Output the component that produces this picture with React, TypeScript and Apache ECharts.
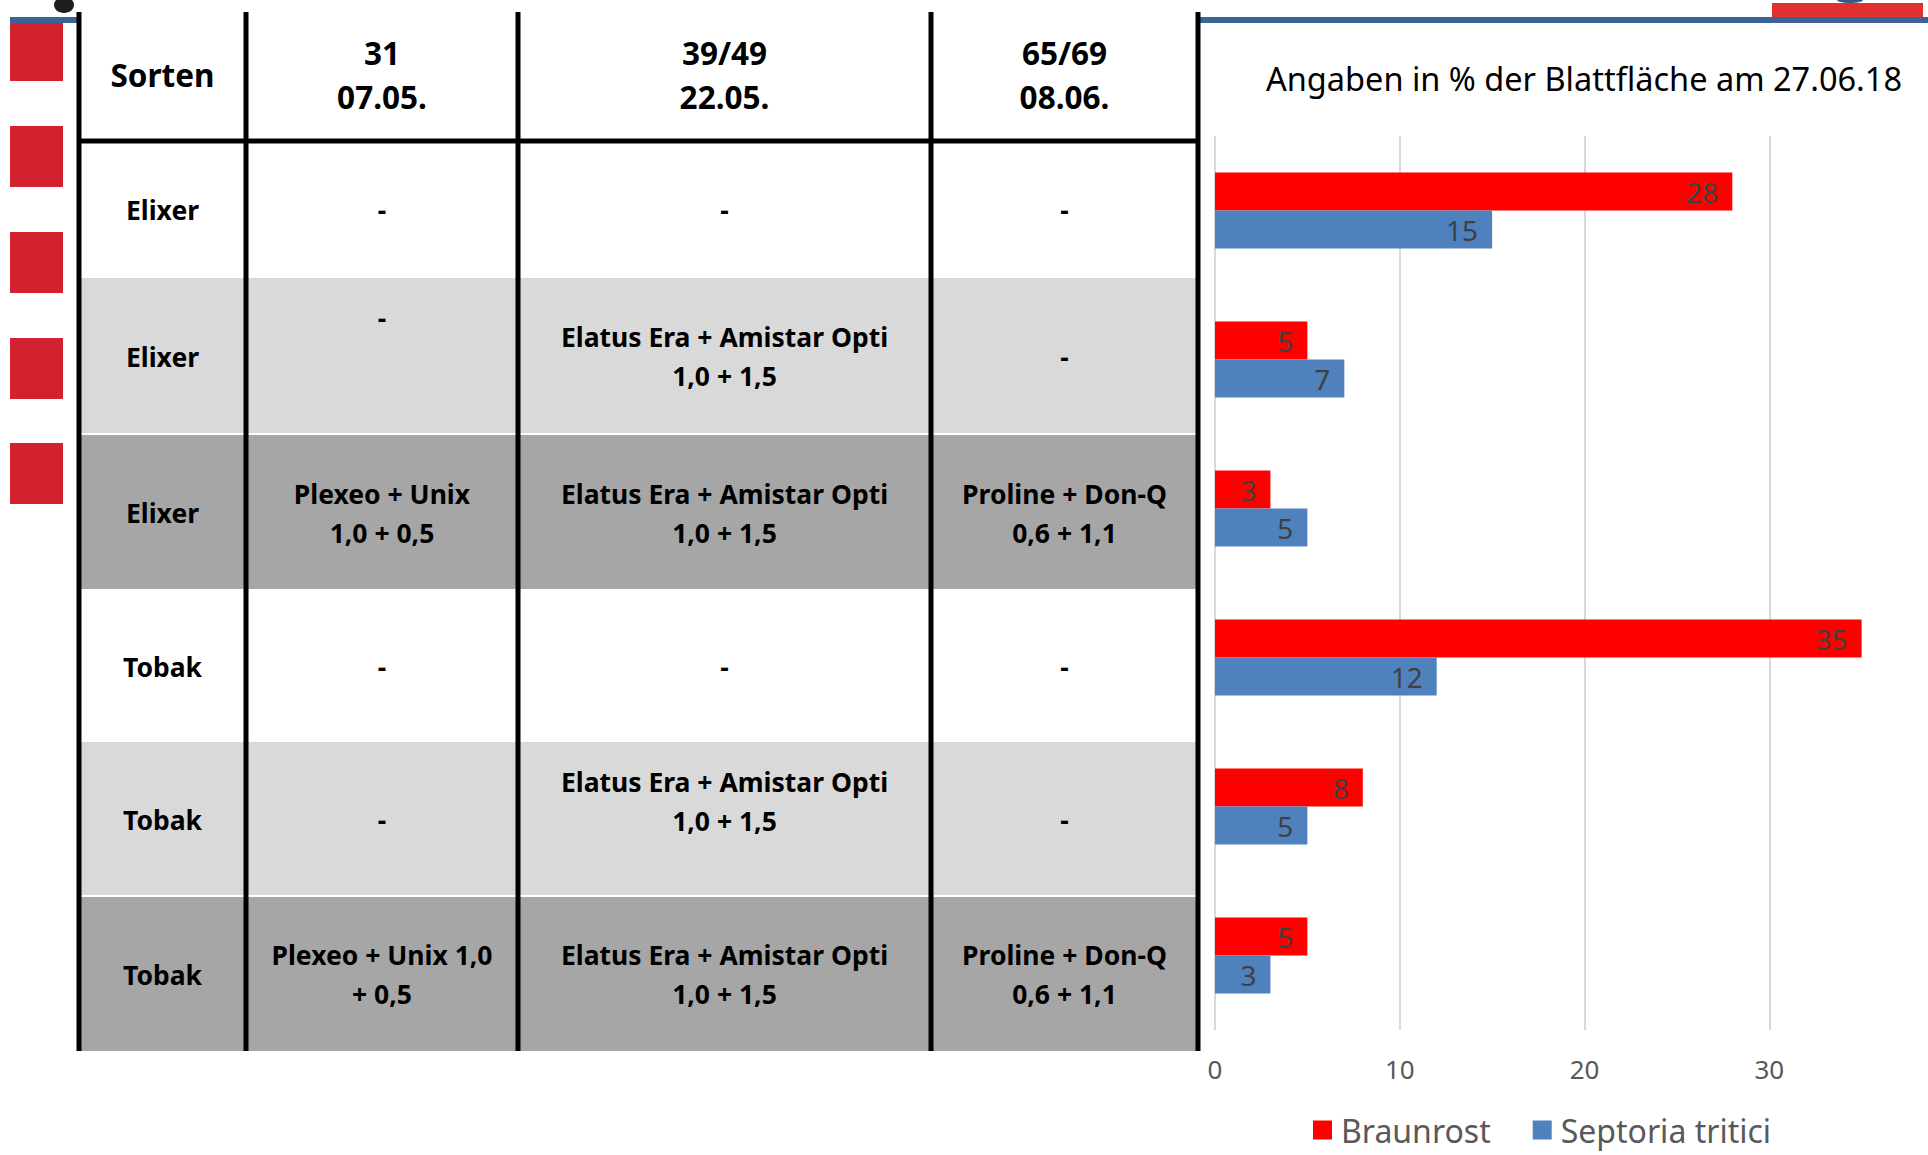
import React, { useEffect, useRef } from "react";
import * as echarts from "echarts";

// ---------- data ----------
const chartTitle = "Angaben in % der Blattfläche am 27.06.18";
const seriesNames = ["Braunrost", "Septoria tritici"];
const categories = [
  "Elixer · Kontrolle",
  "Elixer · 39/49",
  "Elixer · 31 + 39/49 + 65/69",
  "Tobak · Kontrolle",
  "Tobak · 39/49",
  "Tobak · 31 + 39/49 + 65/69",
];
const braunrost = [28, 5, 3, 35, 8, 5];
const septoria = [15, 7, 5, 12, 5, 3];
const axisMin = 0;
const axisMax = 40;
const axisInterval = 10;

const tableHeaders = ["Sorten", "31\n07.05.", "39/49\n22.05.", "65/69\n08.06."];
const sorten = ["Elixer", "Elixer", "Elixer", "Tobak", "Tobak", "Tobak"];
const behandlung31 = ["-", "-", "Plexeo + Unix\n1,0 + 0,5", "-", "-", "Plexeo + Unix 1,0\n+ 0,5"];
const behandlung3949 = [
  "-",
  "Elatus Era + Amistar Opti\n1,0 + 1,5",
  "Elatus Era + Amistar Opti\n1,0 + 1,5",
  "-",
  "Elatus Era + Amistar Opti\n1,0 + 1,5",
  "Elatus Era + Amistar Opti\n1,0 + 1,5",
];
const behandlung6569 = ["-", "-", "Proline + Don-Q\n0,6 + 1,1", "-", "-", "Proline + Don-Q\n0,6 + 1,1"];

// ---------- layout (positions / styles) ----------
const FONT = "'Noto Sans', 'Open Sans', sans-serif";
const colX = [79, 246, 518, 931, 1198];
const rowY = [12, 141, 277, 434, 590, 741, 896, 1051];
const rowFill = ["#ffffff", "#d9d9d9", "#a6a6a6", "#ffffff", "#d9d9d9", "#a6a6a6"];
const topAlignedCells = ["1-1", "4-2"];

function buildGraphics() {
  const els: any[] = [];
  // decorations
  [20, 126, 232, 338, 443].forEach((y) => {
    els.push({ type: "rect", shape: { x: 10, y, width: 53, height: 61 }, style: { fill: "#d3222f" }, z: 1 });
  });
  els.push({ type: "rect", shape: { x: 10, y: 17, width: 67, height: 6 }, style: { fill: "#3a6496" }, z: 2 });
  els.push({ type: "ellipse", shape: { cx: 64, cy: 5, rx: 10, ry: 8 }, style: { fill: "#1e1e1e" }, z: 2 });
  els.push({ type: "rect", shape: { x: 1772, y: 3, width: 151, height: 14 }, style: { fill: "#e03030" }, z: 2 });
  els.push({ type: "ellipse", shape: { cx: 1850, cy: 0, rx: 13, ry: 3 }, style: { fill: "#3a5a8c" }, z: 2 });
  els.push({ type: "rect", shape: { x: 1199, y: 17, width: 760, height: 6 }, style: { fill: "#3a6496" }, z: 2 });

  // row backgrounds
  for (let r = 0; r < 6; r++) {
    els.push({
      type: "rect",
      shape: { x: colX[0], y: rowY[r + 1], width: colX[4] - colX[0], height: rowY[r + 2] - rowY[r + 1] },
      style: { fill: rowFill[r] },
      z: 1,
    });
  }
  // white separators
  for (let r = 2; r < 7; r++) {
    els.push({
      type: "rect",
      shape: { x: colX[0], y: rowY[r] - 1, width: colX[4] - colX[0], height: 2 },
      style: { fill: "#ffffff" },
      z: 2,
    });
  }
  // vertical lines
  colX.forEach((x) => {
    els.push({
      type: "line",
      shape: { x1: x, y1: rowY[0], x2: x, y2: rowY[7] },
      style: { stroke: "#000", lineWidth: 5 },
      z: 3,
    });
  });
  // header line
  els.push({
    type: "line",
    shape: { x1: colX[0] - 2, y1: rowY[1], x2: colX[4] + 2, y2: rowY[1] },
    style: { stroke: "#000", lineWidth: 5 },
    z: 3,
  });

  // header texts
  tableHeaders.forEach((t, c) => {
    els.push({
      type: "text",
      style: {
        text: t,
        x: (colX[c] + colX[c + 1]) / 2,
        y: (rowY[0] + rowY[1]) / 2 - 2,
        textAlign: "center",
        textVerticalAlign: "middle",
        fontSize: 31.5,
        fontWeight: "bold",
        fontFamily: FONT,
        lineHeight: 44,
        fill: "#000",
      },
      z: 4,
    });
  });
  // body texts
  const cols = [sorten, behandlung31, behandlung3949, behandlung6569];
  for (let r = 0; r < 6; r++) {
    const top = rowY[r + 1];
    const bottom = rowY[r + 2];
    cols.forEach((col, c) => {
      const isTop = topAlignedCells.indexOf(`${r}-${c}`) >= 0;
      els.push({
        type: "text",
        style: {
          text: col[r],
          x: (colX[c] + colX[c + 1]) / 2,
          y: isTop ? top + 21 : (top + bottom) / 2 + 1,
          textAlign: "center",
          textVerticalAlign: isTop ? "top" : "middle",
          fontSize: 26.5,
          fontWeight: "bold",
          fontFamily: FONT,
          lineHeight: 39,
          fill: "#000",
        },
        z: 4,
      });
    });
  }
  return els;
}

export default function App() {
  const ref = useRef<HTMLDivElement>(null);
  useEffect(() => {
    if (!ref.current) return;
    const chart = echarts.init(ref.current, undefined, { renderer: "svg" });
    chart.setOption({
      animation: false,
      backgroundColor: "#ffffff",
      title: {
        text: chartTitle,
        left: 1579,
        top: 57,
        textAlign: "center",
        textStyle: { fontSize: 32.5, fontWeight: "normal", color: "#000", fontFamily: FONT },
      },
      legend: {
        data: seriesNames,
        left: 1308,
        top: 1109,
        icon: "rect",
        itemWidth: 19,
        itemHeight: 19,
        itemGap: 42,
        textStyle: { fontSize: 32, color: "#595959", fontFamily: FONT, padding: [0, 0, 0, 4] },
      },
      grid: { left: 1215, top: 136, width: 739, height: 894, containLabel: false },
      xAxis: {
        type: "value",
        min: axisMin,
        max: axisMax,
        interval: axisInterval,
        axisLine: { show: false },
        axisTick: { show: false },
        splitLine: { show: true, lineStyle: { color: "#d9d9d9", width: 2 } },
        axisLabel: { color: "#595959", fontSize: 26, margin: 26, fontFamily: FONT, showMaxLabel: false },
      },
      yAxis: {
        type: "category",
        data: categories,
        inverse: true,
        axisLine: { show: false },
        axisTick: { show: false },
        axisLabel: { show: false },
        splitLine: { show: false },
      },
      series: [
        {
          name: seriesNames[0],
          type: "bar",
          data: braunrost,
          barWidth: 38,
          barGap: "0%",
          itemStyle: { color: "#ff0000" },
          label: { show: true, position: "insideRight", distance: 14, color: "#404040", fontSize: 28, fontFamily: FONT },
        },
        {
          name: seriesNames[1],
          type: "bar",
          data: septoria,
          barWidth: 38,
          barGap: "0%",
          itemStyle: { color: "#4f81bd" },
          label: { show: true, position: "insideRight", distance: 14, color: "#404040", fontSize: 28, fontFamily: FONT },
        },
      ],
      graphic: { elements: buildGraphics() },
    });
    return () => chart.dispose();
  }, []);
  return (
    <div
      style={{ position: "absolute", left: 0, top: 0, width: 1928, height: 1155, overflow: "hidden" }}
    >
      <div ref={ref} style={{ width: 1960, height: 1155 }} />
    </div>
  );
}
